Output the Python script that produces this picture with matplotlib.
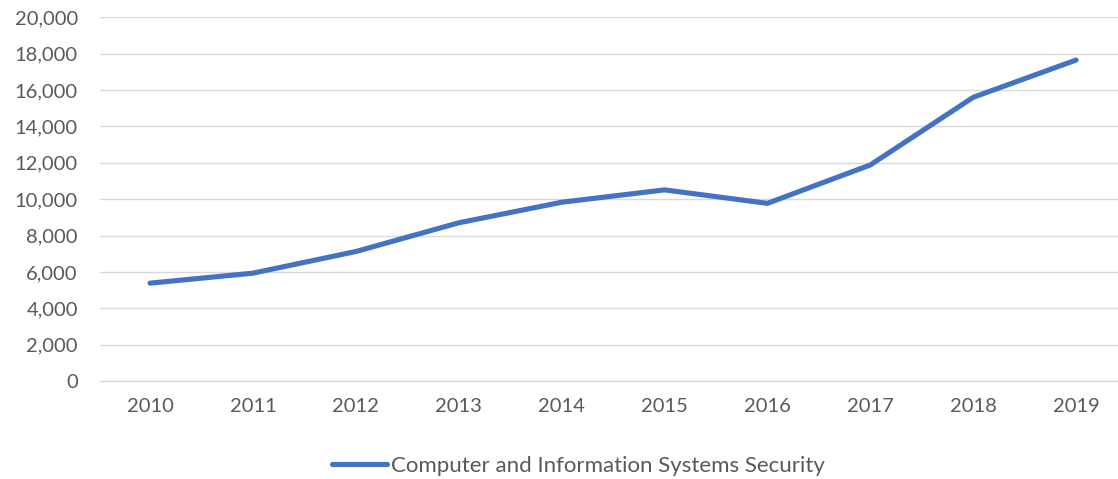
import matplotlib
matplotlib.use("Agg")
import matplotlib.pyplot as plt
from matplotlib.ticker import FuncFormatter, MultipleLocator

years = ["2010", "2011", "2012", "2013", "2014", "2015", "2016", "2017", "2018", "2019"]
values = [5380, 5930, 7120, 8700, 9830, 10510, 9770, 11880, 15600, 17650]
series_name = "Computer and Information Systems Security"

plt.rcParams['font.family'] = ['Lato', 'DejaVu Sans']
W, H = 1118, 479
fig = plt.figure(figsize=(W / 100, H / 100), dpi=100)
ax = fig.add_axes([100 / W, 98 / H, (W - 100) / W, (381 - 17.3) / H])

x = list(range(len(years)))
line, = ax.plot(x, values, color="#4472C4", lw=3.7, solid_capstyle="round",
                solid_joinstyle="round", label=series_name, clip_on=False)

ax.set_xlim(-0.486, 9.407)
ax.set_ylim(0, 20000)
ax.yaxis.set_major_locator(MultipleLocator(2000))
ax.yaxis.set_major_formatter(FuncFormatter(lambda v, p: f"{int(v):,}"))
ax.set_xticks(x)
ax.set_xticklabels(years)
ax.grid(axis="y", color="#D9D9D9", lw=1.0)
ax.set_axisbelow(True)
for s in ["top", "right", "left"]:
    ax.spines[s].set_visible(False)
ax.spines["bottom"].set_color("#D9D9D9")
ax.spines["bottom"].set_linewidth(1.0)
ax.tick_params(axis="both", length=0, labelsize=14.5, labelcolor="#595959")
ax.tick_params(axis="y", pad=16)
ax.tick_params(axis="x", pad=12)

fig.legend(handles=[line], loc="center", bbox_to_anchor=(578 / W, 1 - 466 / H),
           frameon=False, fontsize=16, handlelength=2.5, handletextpad=0.15,
           labelcolor="#595959")

fig.savefig("out.png", dpi=100)
